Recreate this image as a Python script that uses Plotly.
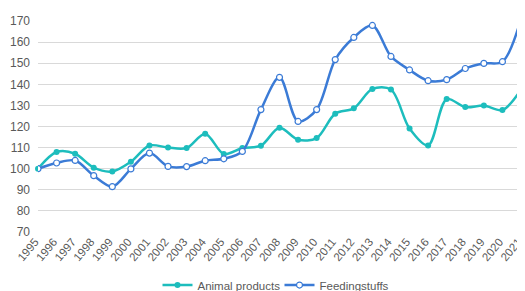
import plotly.graph_objects as go

years = [str(y) for y in range(1995, 2022)]
animal_products = [100, 107.9, 107.1, 100.5, 98.7, 103.3, 111.0, 110.0, 109.8, 116.6,
                   107.0, 109.8, 110.9, 119.4, 113.7, 114.5, 126.1, 128.6, 137.8, 137.5,
                   119.0, 111.0, 133.0, 129.2, 129.9, 127.8, 137.4]
feedingstuffs = [100, 102.7, 103.9, 96.7, 91.5, 99.9, 107.4, 101.1, 101.0, 103.8,
                 104.7, 108.2, 128.0, 143.3, 122.4, 128.0, 151.7, 162.2, 167.9, 153.2,
                 146.8, 141.7, 142.2, 147.5, 149.9, 150.7, 171.0]
y_ticks = list(range(70, 171, 10))

teal = "#1dbdbd"
blue = "#3b7bd6"

fig = go.Figure()
fig.add_trace(go.Scatter(
    x=years, y=animal_products, name="Animal products", mode="lines+markers",
    line=dict(color=teal, width=2.5, shape="spline", smoothing=0.9),
    marker=dict(color=teal, size=6, symbol="circle"),
    cliponaxis=False,
))
fig.add_trace(go.Scatter(
    x=years, y=feedingstuffs, name="Feedingstuffs", mode="lines+markers",
    line=dict(color=blue, width=2.5, shape="spline", smoothing=0.9),
    marker=dict(color="white", size=6, symbol="circle", line=dict(color=blue, width=1.2)),
    cliponaxis=True,
))

# page has an 8px body margin, so the figure is drawn 8px in from the top-left
fig.update_layout(
    width=517, height=283,
    margin=dict(l=30, r=4, t=13, b=59),
    paper_bgcolor="white", plot_bgcolor="white",
    font=dict(family="Liberation Sans, Arial, sans-serif", size=11, color="#595959"),
    showlegend=True,
    legend=dict(orientation="h", x=0.5, xanchor="center", y=0.021, yanchor="middle",
                yref="container", font=dict(size=11.5, color="#595959"),
                itemwidth=30, tracegroupgap=0, entrywidth=77),
)
fig.update_xaxes(type="category", range=[0, 26], tickangle=-50, showgrid=False,
                 showline=False, ticks="", automargin=False, ticklabelshift=-3,
                 tickfont=dict(size=11.5, color="#595959"))
fig.update_yaxes(range=[70, 170], tickvals=y_ticks, showgrid=True, gridcolor="#d9d9d9",
                 gridwidth=1, zeroline=False, showline=False, ticks="",
                 ticklabelstandoff=7, automargin=False,
                 tickfont=dict(size=12, color="#595959"))

fig.write_html("out.html")
